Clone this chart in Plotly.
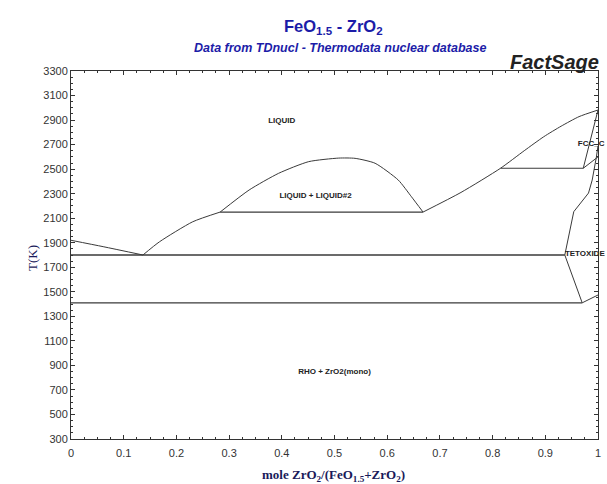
import plotly.graph_objects as go

# ---- phase boundary data (x = mole fraction ZrO2, T in K) ----
liq_left_x = [0.0, 0.061, 0.1365]
liq_left_T = [1920, 1868, 1800]

liq_mid_x = [0.1365, 0.168, 0.231, 0.283]
liq_mid_T = [1800, 1908, 2071, 2150]

dome_x = [0.283, 0.338, 0.394, 0.451, 0.508, 0.539, 0.577, 0.621, 0.646, 0.668]
dome_T = [2150, 2330, 2466, 2561, 2590, 2588, 2548, 2411, 2275, 2150]

mono_x = [0.283, 0.668]
mono_T = [2150, 2150]

liq_right_x = [0.668, 0.74, 0.815, 0.86, 0.897, 0.93, 0.964, 1.0]
liq_right_T = [2150, 2310, 2507, 2650, 2764, 2850, 2928, 2982]

perit_x = [0.815, 0.972]
perit_T = [2507, 2507]

fcc_x = [0.972, 1.0]
fcc_T = [2507, 2982]

cub_tet_x = [0.972, 1.0]
cub_tet_T = [2507, 2600]

tet_upper_x = [1.0, 0.997, 0.989, 0.982, 0.954, 0.947, 0.937]
tet_upper_T = [2690, 2600, 2411, 2305, 2153, 2004, 1800]

tet_lower_x = [0.937, 0.970, 1.0]
tet_lower_T = [1800, 1410, 1474]

eut_x = [0.0, 0.937]
eut_T = [1800, 1800]

low_x = [0.0, 0.970]
low_T = [1410, 1410]

labels = ["LIQUID", "LIQUID + LIQUID#2", "RHO + ZrO2(mono)", "FCC_C", "TETOXIDE"]
label_x = [0.40, 0.464, 0.50, 0.987, 0.975]
label_T = [2892, 2281, 846, 2705, 1808]

y_ticks = list(range(300, 3301, 200))
x_ticks = [0, 0.1, 0.2, 0.3, 0.4, 0.5, 0.6, 0.7, 0.8, 0.9, 1]
x_ticklabels = ["0", "0.1", "0.2", "0.3", "0.4", "0.5", "0.6", "0.7", "0.8", "0.9", "1"]

fig = go.Figure()
line_sets = [
    (liq_left_x, liq_left_T, 1.0, "spline"), (liq_mid_x, liq_mid_T, 1.0, "spline"),
    (dome_x, dome_T, 1.0, "spline"), (mono_x, mono_T, 1.2, "linear"),
    (liq_right_x, liq_right_T, 1.0, "spline"), (perit_x, perit_T, 1.2, "linear"),
    (fcc_x, fcc_T, 1.0, "linear"), (cub_tet_x, cub_tet_T, 1.0, "linear"),
    (tet_upper_x, tet_upper_T, 1.0, "linear"), (tet_lower_x, tet_lower_T, 1.0, "linear"),
    (eut_x, eut_T, 1.4, "linear"), (low_x, low_T, 1.4, "linear"),
]
for xs, ts, w, shp in line_sets:
    fig.add_trace(go.Scatter(x=xs, y=ts, mode="lines",
                  line=dict(color="#3a3a3a", width=w, shape=shp, smoothing=0.6),
                  showlegend=False, hoverinfo="skip"))

fig.add_trace(go.Scatter(x=label_x, y=label_T, mode="text", text=["<b>%s</b>" % s for s in labels],
              textfont=dict(family="Liberation Sans", size=8, color="#222222"),
              textposition="middle center", showlegend=False, hoverinfo="skip", cliponaxis=False))

axis_common = dict(showgrid=False, zeroline=False, showline=True, linecolor="#333333", linewidth=1,
                   mirror="ticks", ticks="inside", ticklen=4, tickcolor="#333333",
                   tickfont=dict(family="Liberation Sans", size=11, color="#333333"))
fig.update_xaxes(range=[0, 1], tickvals=x_ticks, ticktext=x_ticklabels, ticklabelstandoff=4,
                 minor=dict(dtick=0.025, ticks="inside", ticklen=2, tickcolor="#333333"), **axis_common)
fig.update_yaxes(range=[300, 3300], tickvals=y_ticks,
                 minor=dict(dtick=50, tick0=300, ticks="inside", ticklen=2, tickcolor="#333333"), **axis_common)

anns = [
    dict(text="<b>FeO<sub>1.5</sub> - ZrO<sub>2</sub></b>", x=0.498, y=1.12,
         font=dict(family="Liberation Sans", size=16.5, color="#1c1ca8")),
    dict(text="<b><i>Data from TDnucl - Thermodata nuclear database</i></b>", x=0.51, y=1.063,
         font=dict(family="Liberation Sans", size=12.5, color="#1c1ca8")),
    dict(text="<b><i>FactSage</i></b>", x=0.917, y=1.025,
         font=dict(family="Liberation Sans", size=20, color="#222222")),
    dict(text="T(K)", x=-0.072, y=0.492, textangle=-90,
         font=dict(family="Liberation Serif", size=13, color="#1a1a5a")),
    dict(text="<b>mole ZrO<sub>2</sub>/(FeO<sub>1.5</sub>+ZrO<sub>2</sub>)</b>", x=0.498, y=-0.1,
         font=dict(family="Liberation Serif", size=13, color="#1a1a5a")),
]
for a in anns:
    fig.add_annotation(xref="paper", yref="paper", showarrow=False, xanchor="center", yanchor="middle", **a)

fig.update_layout(width=607, height=484, margin=dict(l=71, r=6, t=71, b=45),
                  plot_bgcolor="white", paper_bgcolor="white")
fig.write_html("out.html", config={"displayModeBar": False},
               post_script="document.body.style.margin='0';document.body.style.overflow='hidden';")
